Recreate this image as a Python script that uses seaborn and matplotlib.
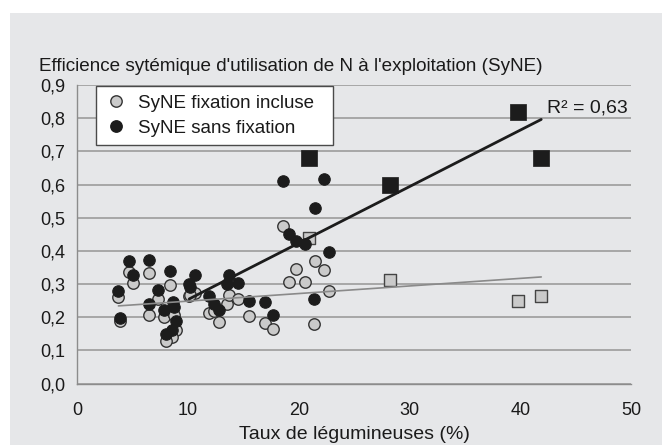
import matplotlib
matplotlib.use("Agg")
import matplotlib.pyplot as plt
from matplotlib.lines import Line2D
from matplotlib.patches import Rectangle
import seaborn as sns
import numpy as np
import pandas as pd

# farms drawn as circles: % legumes, SyNE with fixation, SyNE without fixation
taux = [3.7, 3.8, 4.7, 5.0, 6.5, 6.5, 7.3, 7.8, 8.4, 8.6, 8.7, 8.9, 8.5, 8.0,
        10.1, 10.6, 10.2, 11.9, 12.3, 12.8, 13.5, 13.7, 14.5, 15.5, 16.9, 17.7,
        18.6, 19.1, 19.7, 20.6, 21.5, 22.3, 22.7, 21.4]
syne_incl = [0.262, 0.188, 0.337, 0.302, 0.333, 0.207, 0.256, 0.201, 0.298, 0.214,
             0.207, 0.163, 0.141, 0.127,
             0.263, 0.274, 0.268, 0.213, 0.220, 0.185, 0.240, 0.267, 0.254, 0.205,
             0.184, 0.164,
             0.476, 0.305, 0.345, 0.306, 0.368, 0.342, 0.280, 0.179]
syne_sans = [0.280, 0.199, 0.370, 0.327, 0.373, 0.240, 0.282, 0.221, 0.340, 0.247,
             0.231, 0.188, 0.163, 0.150,
             0.300, 0.327, 0.292, 0.263, 0.240, 0.222, 0.300, 0.327, 0.304, 0.249,
             0.245, 0.208,
             0.610, 0.450, 0.430, 0.420, 0.530, 0.617, 0.397, 0.255]

# farms drawn as squares
taux_sq = [20.9, 28.2, 39.8, 41.9]
syne_incl_sq = [0.440, 0.312, 0.250, 0.265]
syne_sans_sq = [0.680, 0.600, 0.820, 0.680]

r2_label = "R² = 0,63"
seuil_tendance = 10   # black trend fitted on farms above this share of legumes

xticks = [0, 10, 20, 30, 40, 50]
yticks = [0.0, 0.1, 0.2, 0.3, 0.4, 0.5, 0.6, 0.7, 0.8, 0.9]
ytick_labels = ["0,0", "0,1", "0,2", "0,3", "0,4", "0,5", "0,6", "0,7", "0,8", "0,9"]

circles = pd.DataFrame({"taux": taux, "incl": syne_incl, "sans": syne_sans})
squares = pd.DataFrame({"taux": taux_sq, "incl": syne_incl_sq, "sans": syne_sans_sq})
allpts = pd.concat([circles, squares], ignore_index=True)

sns.set_style("white")
plt.rcParams["font.family"] = ["Liberation Sans", "DejaVu Sans"]

BG = "#e6e7e9"
GRID = "#a2a2a2"
DARK = "#1c1c1c"
GREY = "#cacaca"
TXT = "#1a1a1a"

fig = plt.figure(figsize=(6.62, 4.45), dpi=100, facecolor="white")
fig.patches.append(Rectangle((10 / 662, 0), 1, 1 - 13 / 445, transform=fig.transFigure,
                             facecolor=BG, edgecolor="none", zorder=-10))
ax = fig.add_axes([0.117, 0.138, 0.836, 0.671])
ax.set_facecolor(BG)

# trend lines
sns.regplot(data=allpts, x="taux", y="incl", scatter=False, ci=None, truncate=True,
            color="#8a8a8a", line_kws=dict(lw=1.2, zorder=5), ax=ax)
sns.regplot(data=allpts[allpts["taux"] >= seuil_tendance], x="taux", y="sans",
            scatter=False, ci=None, truncate=True,
            color=DARK, line_kws=dict(lw=2.0, zorder=5), ax=ax)

# points
sns.scatterplot(data=circles, x="taux", y="incl", marker="o", s=68, color=GREY,
                edgecolor="#333333", linewidth=1.0, zorder=3, ax=ax)
sns.scatterplot(data=circles, x="taux", y="sans", marker="o", s=68, color=DARK,
                edgecolor=DARK, linewidth=0.8, zorder=4, ax=ax)
sns.scatterplot(data=squares, x="taux", y="incl", marker="s", s=72, color=GREY,
                edgecolor="#444444", linewidth=1.0, zorder=3, ax=ax)
sns.scatterplot(data=squares, x="taux", y="sans", marker="s", s=135, color=DARK,
                edgecolor=DARK, linewidth=0.5, zorder=4, ax=ax)

ax.text(42.4, 0.83, r2_label, fontsize=14, color=TXT, va="center", ha="left")

ax.set_xlim(0, 50)
ax.set_ylim(0, 0.9)
ax.set_xticks(xticks)
ax.set_yticks(yticks)
ax.set_yticklabels(ytick_labels)
ax.yaxis.grid(True, color=GRID, lw=1.3)
ax.set_axisbelow(True)
for s in ["top", "right"]:
    ax.spines[s].set_visible(False)
for s in ["left", "bottom"]:
    ax.spines[s].set_color("#8c8c8c")
    ax.spines[s].set_linewidth(1.0)
ax.tick_params(axis="both", direction="out", length=4, width=1, color="#8c8c8c",
               labelsize=13, labelcolor=TXT, pad=5)
ax.tick_params(axis="x", pad=9)
ax.set_ylabel("")
ax.set_xlabel("Taux de légumineuses (%)", fontsize=14, color=TXT, labelpad=5)

fig.text(39 / 662, 1 - 71 / 445, "Efficience sytémique d'utilisation de N à l'exploitation (SyNE)",
         fontsize=13.6, color=TXT, va="baseline", ha="left")

handles = [
    Line2D([], [], ls="none", marker="o", markersize=8.2, markerfacecolor=GREY,
           markeredgecolor="#333333", markeredgewidth=1.0),
    Line2D([], [], ls="none", marker="o", markersize=8.2, markerfacecolor=DARK,
           markeredgecolor=DARK),
]
leg = ax.legend(handles, ["SyNE fixation incluse", "SyNE sans fixation"],
                loc="upper left", bbox_to_anchor=(0.034, 0.0, 0.427, 0.996),
                mode="expand", fontsize=13.5,
                frameon=True, fancybox=False, framealpha=1, edgecolor="#4a4a4a",
                handletextpad=0.6, borderpad=0.45, labelspacing=0.42,
                handlelength=1.2, borderaxespad=0)
leg.get_frame().set_linewidth(1.0)
for t in leg.get_texts():
    t.set_color(TXT)

fig.savefig("out.png", dpi=100, facecolor="white")
